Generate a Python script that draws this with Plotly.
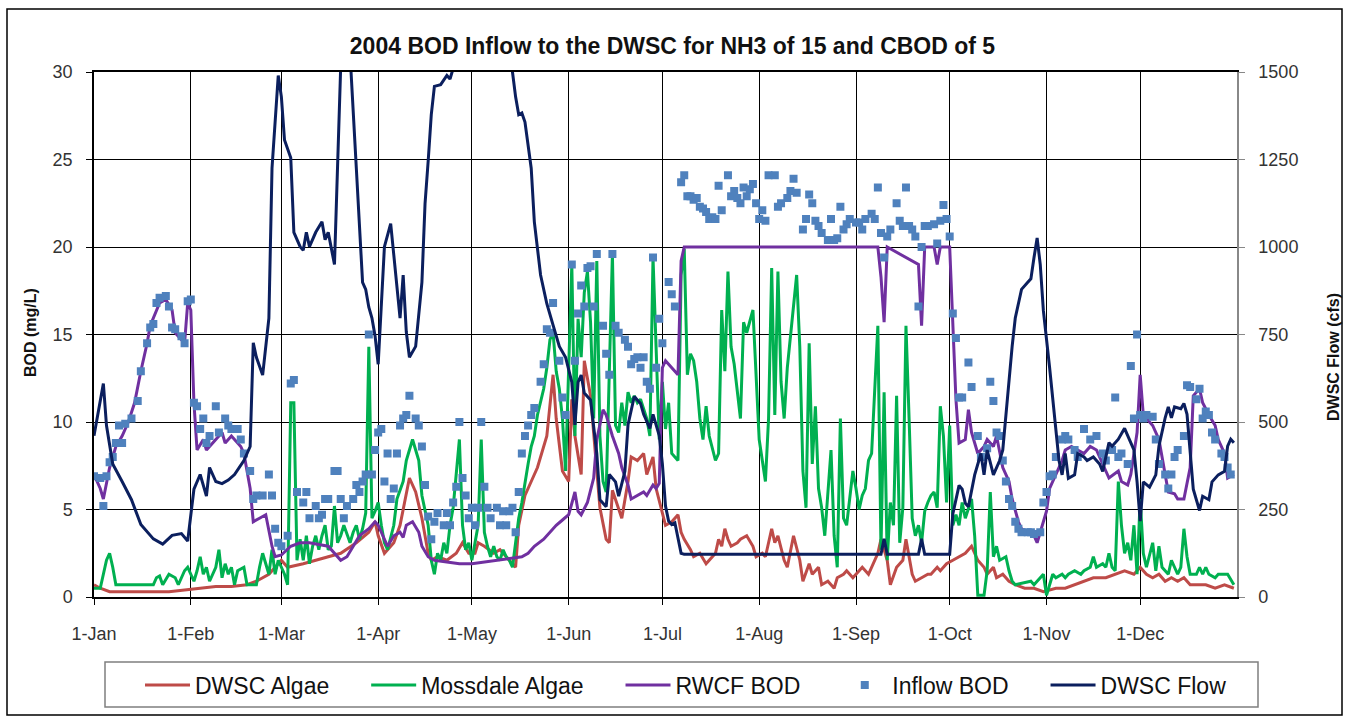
import pandas as pd
import plotly.graph_objects as go

# ---- data (day of year 2004, value) ----
BASE = pd.Timestamp("2004-01-01")

month_starts = ["2004-01-01", "2004-02-01", "2004-03-01", "2004-04-01", "2004-05-01", "2004-06-01",
                "2004-07-01", "2004-08-01", "2004-09-01", "2004-10-01", "2004-11-01", "2004-12-01"]
month_labels = ["1-Jan", "1-Feb", "1-Mar", "1-Apr", "1-May", "1-Jun",
                "1-Jul", "1-Aug", "1-Sep", "1-Oct", "1-Nov", "1-Dec"]

dwsc_algae_day = [1, 3, 6, 10, 15, 20, 25, 30, 35, 40, 45, 50, 53, 57, 61, 63, 68, 72, 76, 80, 85, 89, 91,
                  92, 94, 97, 99, 101, 102, 104, 106, 108, 109, 111, 114, 117, 119, 121, 123, 124, 126, 129,
                  131, 133, 135, 136, 137, 139, 141, 143, 146, 148, 149, 151, 153, 154, 155, 157, 158, 160,
                  162, 163, 165, 166, 167, 169, 170, 172, 173, 175, 177, 178, 180, 181, 183, 184, 186, 188,
                  189, 190, 192, 193, 195, 197, 198, 200, 201, 202, 203, 204, 205, 207, 208, 210, 212, 213,
                  215, 216, 218, 219, 220, 222, 223, 225, 227, 228, 230, 231, 233, 234, 236, 238, 239, 241,
                  242, 244, 246, 247, 249, 250, 252, 253, 255, 256, 258, 260, 261, 263, 264, 266, 268, 269,
                  271, 272, 274, 276, 278, 280, 281, 282, 284, 286, 287, 289, 290, 292, 294, 296, 299, 302,
                  305, 309, 312, 315, 318, 321, 325, 328, 331, 334, 336, 338, 340, 342, 344, 346, 348, 350,
                  352, 355, 357, 360, 363, 366]
dwsc_algae_val = [0.7, 0.5, 0.3, 0.3, 0.3, 0.3, 0.3, 0.4, 0.5, 0.6, 0.6, 0.7, 0.9, 1.3, 2.1, 1.7, 1.9, 2.1,
                  2.3, 2.5, 3.1, 3.7, 4.3,
                  3.5, 2.5, 3.1, 4.1, 5.8, 6.8, 6.0, 4.5, 2.5, 2.1, 2.3, 2.1, 2.5, 3.1, 2.5, 2.5, 3.1, 2.9, 2.5,
                  2.7, 2.3, 1.9, 1.7, 4.1, 5.8, 6.6, 7.4, 9.2, 12.7, 10.2, 7.2, 6.6, 11.3, 9.2, 7.0, 13.5, 11.5,
                  7.2, 5.1, 3.3, 3.1, 6.1, 5.1, 4.5, 6.6, 8.0, 7.8, 8.2, 7.0, 8.0, 6.2, 4.9, 4.1, 4.3, 4.7,
                  3.7, 3.3, 2.7, 2.3, 2.5, 1.9, 2.1, 2.5, 3.3, 2.9, 3.9, 3.3, 2.9, 3.1, 3.3, 3.5, 2.9, 2.3,
                  2.5, 2.3, 3.9, 3.1, 3.5, 2.1, 1.7, 3.5, 2.1, 0.9, 1.9, 1.3, 1.7, 0.7, 0.9, 0.5, 1.1, 1.3,
                  1.5, 1.1, 1.5, 1.7, 1.3, 1.7, 2.5, 3.3, 2.1, 0.7, 1.7, 2.1, 3.3, 1.3, 0.9, 1.1, 1.3, 1.3,
                  1.7, 1.5, 1.9, 2.1, 2.3, 2.5, 2.7, 2.9, 2.1, 1.7, 1.3, 1.7, 1.1, 1.3, 0.9, 0.7, 0.5, 0.5,
                  0.3, 0.5, 0.5, 0.7, 0.9, 1.1, 1.1, 1.3, 1.5, 1.3, 1.7, 1.3, 1.1, 1.3, 0.9, 1.1, 0.9, 1.1,
                  0.7, 0.7, 0.7, 0.5, 0.7, 0.5]

mossdale_day = [1, 3, 5, 6, 7, 8, 10, 13, 16, 20, 21, 22, 23, 25, 27, 28, 30, 31, 33, 34, 35, 36, 37, 38,
                40, 41, 42, 43, 44, 45, 46, 47, 49, 50, 52, 53, 54, 55, 57, 58, 59, 60, 62, 63, 64, 65, 66,
                67, 68, 69, 70, 71, 72, 73, 74, 75, 76, 77, 78, 79, 80, 81, 83, 84, 85, 86, 87, 88, 89, 90,
                91, 92, 93, 94, 95, 97, 98, 100, 101, 103, 105, 106, 108, 109, 110, 111, 112, 113, 114, 115,
                116, 118, 119, 120, 121, 122, 123, 124, 125, 126, 127, 128, 129, 130, 131, 132, 133, 134,
                135, 137, 138, 139, 140, 141, 142, 143, 145, 146, 147, 148, 149, 150, 151, 152, 154, 155,
                156, 157, 158, 159, 160, 161, 162, 163, 164, 165, 167, 168, 169, 170, 171, 172, 173, 174,
                175, 176, 178, 179, 180, 182, 183, 184, 185, 186, 188, 189, 190, 191, 192, 193, 194, 195,
                196, 197, 198, 200, 201, 202, 203, 204, 205, 206, 208, 209, 210, 212, 213, 214, 215, 216,
                217, 218, 219, 220, 221, 222, 223, 224, 226, 227, 228, 229, 230, 231, 232, 233, 234, 235,
                237, 238, 239, 240, 241, 242, 243, 244, 245, 246, 247, 248, 249, 250, 252, 253, 254, 255,
                256, 257, 258, 259, 260, 261, 262, 263, 264, 265, 266, 267, 268, 269, 270, 271, 272, 273,
                274, 275, 276, 277, 278, 279, 280, 282, 283, 284, 285, 286, 287, 288, 289, 290, 291, 293,
                294, 295, 296, 299, 301, 302, 304, 305, 306, 308, 309, 311, 312, 313, 315, 317, 318, 320,
                321, 322, 324, 325, 326, 327, 328, 329, 330, 331, 332, 333, 334, 335, 336, 337, 338, 340,
                341, 342, 343, 345, 346, 348, 349, 350, 351, 352, 354, 355, 356, 357, 358, 360, 361, 363,
                364, 366]
mossdale_val = [0.5, 0.5, 2.1, 2.5, 1.7, 0.7, 0.7, 0.7, 0.7, 0.7, 1.1, 1.2, 0.7, 1.3, 1.1, 0.7, 1.5, 1.7,
                0.9, 1.5, 2.3, 1.3, 1.7, 0.9,
                1.7, 2.7, 1.1, 1.9, 1.3, 1.7, 0.7, 1.5, 1.7, 0.7, 0.7, 0.7, 1.7, 2.5, 1.3, 2.7, 1.3, 2.1,
                1.3, 0.7, 11.1, 11.1, 2.1,
                3.3, 2.1, 3.5, 1.9, 2.9, 3.5, 2.7, 3.5, 4.1, 2.7, 2.9, 5.2, 3.1, 3.5, 4.1, 3.1, 3.7, 4.1,
                3.3, 3.9, 4.8, 14.3, 4.5,
                4.9, 5.4, 4.1, 3.1, 2.7, 4.1, 5.6, 6.6, 7.8, 9.0, 7.8, 5.8, 4.1, 2.1, 1.3, 2.5, 2.1, 3.1,
                2.5, 4.1,
                5.1, 9.0, 4.1, 2.7, 3.1, 2.1, 3.1, 4.1, 9.0, 3.7, 2.9, 2.3, 2.9, 2.3, 2.1, 2.7, 2.3, 2.1,
                1.7, 4.5, 5.4, 6.6, 7.6, 8.6, 9.2, 10.4, 11.9, 13.1, 14.7, 15.1, 12.9, 11.9, 10.2, 7.2,
                19.0, 9.2,
                15.9, 13.7, 17.4, 18.6, 15.7, 10.2, 19.2, 9.2, 6.6, 6.0, 19.6, 9.8, 9.4, 11.1, 9.8, 11.7,
                11.1, 11.5,
                11.1, 11.3, 10.2, 9.2, 19.4, 9.0, 12.3, 9.6, 11.1, 8.2, 7.8, 18.4, 19.9, 12.7, 13.9, 13.5,
                12.3, 10.2,
                9.0, 10.9, 9.2, 7.8, 8.2, 16.4, 12.9, 18.6, 14.3, 13.3, 10.2, 15.7, 15.1, 16.4, 12.3, 9.0,
                7.8, 6.6,
                10.2, 18.8, 10.4, 18.6, 12.3, 10.2, 13.1, 14.9, 18.4, 14.3, 7.2, 5.1, 14.5, 7.6, 10.9, 6.2,
                5.1, 3.5,
                8.4, 3.5, 1.7, 10.2, 4.5, 4.1, 5.8, 7.2, 6.2, 5.0, 5.8, 6.2, 7.8, 8.2, 15.5, 2.7, 11.7, 2.1,
                5.4, 4.1, 11.5, 3.1, 5.1, 15.5, 10.2, 4.5, 3.5, 4.1, 3.1, 4.9, 5.4, 5.8, 6.0, 5.1, 10.9, 9.2,
                5.4, 9.8, 4.1, 4.7, 4.1, 5.4, 4.5, 5.6, 3.5, 0.1, 0.1, 0.1, 1.5, 6.0, 2.3, 2.9, 2.1, 2.3,
                1.5, 0.9, 0.7, 0.8, 0.9, 0.7, 1.1, 1.3, 0.1, 1.3, 1.1, 1.3, 1.1, 1.3, 1.5, 1.3, 1.5, 1.7,
                2.3, 1.7, 1.9, 1.7, 2.5, 1.7, 1.5, 6.6, 4.1, 2.5, 3.1, 2.1, 4.1, 1.3, 5.6, 2.5, 1.7, 3.1,
                1.5, 2.9, 1.7, 1.3, 2.1, 1.3, 1.7, 3.9, 2.3, 1.3, 1.3, 1.7, 1.3, 1.7, 1.3, 1.1, 1.3, 1.3,
                1.3, 0.7]

rwcf_day = [1, 3, 4, 6, 8, 10, 12, 14, 16, 18, 19, 21, 22, 24, 26, 27, 28, 30, 31, 32, 33, 34, 36, 37, 40,
            42, 43, 45, 48, 49, 51, 52, 54, 56, 58, 59, 61, 64, 67, 70, 73, 76, 80, 82, 84, 86, 89, 91,
            92, 94, 95, 97, 99, 100, 101, 103, 105, 106, 108, 110, 114, 118, 122, 126, 131, 135, 138, 140,
            142, 145, 147, 149, 151, 153, 155, 156, 157, 159, 161, 162, 164, 165, 167, 169, 170, 172, 173,
            175, 177, 178, 180, 181, 182, 183, 184, 186, 188, 189, 190, 252, 253, 254, 255, 265, 266, 267,
            270, 271, 272, 275, 276, 277, 278, 280, 281, 282, 284, 286, 287, 289, 290, 292, 294, 295, 297,
            298, 300, 302, 303, 304, 306, 307, 309, 311, 312, 314, 316, 318, 320, 322, 324, 326, 329, 330,
            332, 333, 335, 336, 337, 339, 340, 342, 344, 345, 347, 348, 350, 352, 353, 355, 356, 358, 360,
            361, 363, 364, 366]
rwcf_val = [7.0, 6.2, 5.6, 7.4, 8.6, 9.2, 10.0, 11.1, 12.9, 14.5, 15.5, 16.4, 16.8, 17.0, 16.4, 15.1, 14.9,
            14.5, 16.8, 16.4, 11.1, 8.4, 9.0, 8.4, 9.0,
            9.4, 8.8, 9.2, 8.6, 8.2, 6.2, 4.3, 4.5, 4.7, 2.9, 2.3, 2.4, 2.9, 3.1, 3.1, 3.0, 2.9, 2.1, 2.3,
            2.9, 3.5, 3.9, 4.3,
            4.1, 3.3, 2.9, 3.5, 3.7, 3.4, 4.1, 4.3, 3.7, 2.9, 2.3, 2.1, 2.0, 1.9, 1.9, 2.0, 2.1, 2.2, 2.3,
            2.5,
            2.9, 3.3, 3.7, 4.1, 4.4, 4.7, 6.0, 4.9, 4.7, 5.4, 6.8, 9.0, 10.7, 10.4, 9.2, 8.2, 7.4, 6.4,
            5.6,
            5.8, 6.0, 5.8, 6.4, 6.2, 6.5, 13.1, 13.5, 13.1, 12.7, 19.2, 20.0, 20.0, 18.3, 15.7, 20.0, 19.0,
            15.5, 20.0,
            20.0, 19.0, 20.0, 20.0, 15.3, 11.3, 8.8, 9.0, 10.7, 9.4, 8.2, 8.6, 9.0, 8.6, 9.2, 7.4, 6.6,
            5.6, 4.3,
            3.9, 3.7, 3.5, 3.1, 3.7, 4.9, 6.2, 7.0, 7.8, 8.4, 8.6, 8.4, 8.2, 8.6, 8.4, 7.6, 6.8, 7.2, 6.6,
            6.4, 7.0, 9.4, 12.7, 10.4, 10.0, 9.8, 9.0, 7.0, 6.0, 5.9, 5.6, 5.6, 7.4, 11.5, 11.9, 11.1,
            10.4, 9.8,
            9.0, 8.2, 6.8, 7.0]

inflow_day = [1, 3, 4, 5, 6, 7, 8, 9, 10, 11, 13, 15, 16, 18, 19, 20, 21, 22, 24, 25, 26, 27, 29, 30, 31,
              32, 33, 34, 35, 36, 37, 38, 40, 41, 43, 44, 45, 47, 48, 49, 51, 52, 53, 55, 57, 58, 59, 60,
              61, 63, 64, 65, 66, 68, 69, 70, 72, 73, 74, 75, 76, 78, 79, 80, 81, 82, 84, 85, 86, 87, 88,
              89, 90, 91, 92, 93, 94, 95, 96, 97, 98, 99, 100, 101, 102, 104, 105, 106, 107, 108, 109, 110,
              111, 113, 114, 115, 116, 117, 118, 119, 120, 121, 122, 123, 124, 125, 126, 127, 128, 130, 131,
              132, 133, 134, 135, 136, 137, 138, 139, 140, 141, 142, 144, 145, 146, 147, 148, 150, 151, 152,
              154, 155, 156, 157, 158, 159, 160, 161, 162, 164, 165, 166, 167, 168, 169, 171, 172, 173, 174,
              175, 176, 177, 178, 179, 180, 181, 182, 183, 185, 186, 187, 189, 190, 191, 192, 193, 194, 195,
              196, 197, 198, 199, 200, 201, 202, 204, 205, 206, 207, 208, 209, 210, 211, 212, 213, 214, 215,
              216, 217, 219, 220, 221, 223, 224, 225, 226, 228, 229, 230, 231, 232, 233, 234, 236, 237, 238,
              239, 240, 241, 242, 243, 245, 246, 247, 248, 250, 251, 252, 253, 254, 255, 256, 258, 259, 260,
              261, 262, 263, 264, 265, 266, 267, 268, 270, 271, 272, 273, 274, 275, 276, 277, 278, 279, 281,
              282, 284, 285, 287, 288, 289, 290, 291, 292, 293, 294, 295, 296, 297, 298, 300, 301, 302, 304,
              305, 306, 307, 308, 309, 311, 312, 313, 315, 316, 318, 320, 322, 324, 325, 327, 328, 329, 330,
              332, 333, 334, 335, 336, 337, 338, 340, 341, 342, 344, 345, 346, 347, 348, 350, 351, 352, 354,
              355, 356, 357, 358, 359, 360, 362, 363, 364, 365, 366]
inflow_val = [6.9, 6.8, 5.2, 6.9, 7.7, 8.0, 8.8, 9.8, 8.8, 9.9, 10.2, 11.2, 12.9, 14.5, 15.4, 15.6, 16.8,
              17.1, 17.2, 16.6, 15.4, 15.3, 14.9, 14.5, 16.9,
              17.0, 11.1, 10.9, 9.6, 10.2, 8.8, 9.2, 10.9, 9.4, 10.2, 9.8, 9.6, 9.6, 9.0, 8.2, 7.2, 5.6,
              5.8, 5.8, 7.0, 5.8, 3.9, 3.1,
              2.9, 3.5, 12.2, 12.4, 6.0, 5.4, 6.0, 4.5, 5.2, 4.5, 4.7, 5.6, 5.6, 7.2, 7.2, 5.6, 4.5, 5.2,
              5.6, 6.4, 6.0, 6.6, 7.0,
              15.0, 7.0, 8.4, 9.4, 9.6, 6.6, 8.2, 5.6, 6.2, 8.2, 9.8, 10.2, 10.4, 11.5, 10.2, 9.8, 8.6,
              6.4, 4.6, 3.3, 4.3,
              4.8, 4.1, 4.8, 4.1, 5.4, 6.3, 10.0, 6.8, 5.8, 4.5, 5.1, 4.1, 5.1, 10.0, 6.3, 5.1, 4.5, 5.1,
              4.1,
              4.9, 4.1, 4.9, 5.1, 3.7, 6.0, 8.2, 9.2, 9.8, 10.4, 10.8, 12.3, 13.3, 15.3, 15.1, 16.8, 13.5,
              11.4, 10.4,
              19.0, 13.5, 16.2, 17.8, 16.6, 18.8, 18.9, 16.6, 19.6, 15.5, 13.9, 12.7, 19.6, 15.5, 15.1,
              14.7, 14.3, 13.3, 13.6,
              13.7, 13.1, 13.7, 12.3, 11.9, 19.4, 13.1, 15.9, 14.5, 18.0, 17.3, 16.6, 23.7, 24.1, 22.9,
              22.9, 22.7, 22.8, 22.3,
              22.2, 22.0, 21.6, 21.7, 21.6, 23.5, 22.1, 24.1, 22.9, 23.2, 22.8, 22.5, 23.4, 22.9, 23.3,
              23.6, 22.5, 21.6, 22.1,
              21.5, 24.1, 24.1, 22.3, 22.5, 22.8, 23.2, 23.9, 23.1, 21.0, 21.6, 23.0, 22.5, 21.5, 21.2,
              20.8, 20.4, 21.6, 20.4,
              20.5, 22.3, 21.0, 21.3, 21.6, 21.4, 21.4, 21.0, 21.6, 21.9, 21.6, 23.4, 20.8, 19.4, 20.6,
              21.0, 22.5, 21.5, 21.2,
              23.4, 21.2, 21.0, 20.6, 16.6, 20.0, 21.2, 21.2, 21.3, 20.2, 21.5, 22.4, 21.6, 20.6, 16.2,
              14.8, 11.4, 11.4, 13.4,
              12.0, 9.2, 8.0, 8.5, 12.3, 11.2, 9.4, 9.2, 7.8, 6.6, 5.6, 5.2, 4.3, 3.9, 3.7, 3.7, 3.7, 3.6,
              3.7, 5.4, 6.0, 6.9, 7.0, 8.0, 9.0, 9.2, 9.0, 8.4, 8.0, 9.6, 9.0, 9.2, 8.2, 7.8, 8.4, 11.4,
              8.0,
              8.2, 7.6, 13.2, 10.2, 15.0, 10.4, 10.2, 10.4, 10.3, 9.0, 7.6, 7.0, 6.2, 7.0, 8.0, 8.4, 9.2,
              12.1, 12.0,
              11.3, 11.9, 10.2, 10.6, 10.4, 9.4, 9.0, 8.2, 8.0, 7.4, 7.0]

flow_day = [1, 4, 5, 7, 10, 13, 16, 20, 23, 26, 29, 31, 33, 35, 37, 38, 40, 42, 44, 46, 49, 51, 52, 53, 55,
            57, 58, 60, 61, 62, 64, 65, 67, 68, 69, 70, 72, 74, 75, 76, 78, 79, 80, 81, 82, 83, 85, 87, 88,
            89, 90, 91, 92, 93, 94, 96, 97, 99, 100, 101, 102, 104, 106, 107, 108, 109, 110, 112, 114, 115,
            116, 118, 121, 125, 130, 133, 135, 136, 137, 138, 139, 141, 142, 144, 146, 148, 150, 152, 154,
            155, 156, 157, 158, 160, 162, 163, 165, 166, 168, 169, 171, 172, 174, 176, 177, 179, 180, 182,
            183, 184, 185, 186, 187, 189, 190, 253, 254, 255, 265, 266, 267, 275, 276, 278, 279, 280, 281,
            283, 285, 286, 287, 289, 291, 292, 294, 295, 296, 298, 300, 301, 302, 303, 304, 305, 307, 309,
            310, 311, 312, 313, 315, 316, 318, 319, 321, 323, 324, 326, 327, 329, 331, 332, 334, 335, 336,
            337, 339, 341, 342, 344, 345, 346, 347, 349, 350, 351, 353, 355, 356, 358, 359, 361, 363, 364,
            365, 366]
flow_val = [461, 610, 490, 380, 330, 278, 207, 166, 151, 176, 181, 160, 308, 350, 288, 370, 330, 324, 334,
            350, 390, 430, 726, 685, 634,
            797, 1225, 1490, 1429, 1306, 1255, 1042, 1001, 991, 1042, 1001, 1042, 1072, 1021, 1042, 950,
            1225, 1600, 1800, 1750, 1550, 1225, 899, 879,
            828, 797, 746, 665, 818, 1001, 1067, 970, 797, 920, 757, 685, 716, 899, 1123, 1245, 1378, 1459,
            1464, 1490, 1480,
            1510, 1650, 1850, 1950, 1800, 1600, 1500, 1429, 1378, 1383, 1357, 1225, 1072, 920, 838, 777,
            716, 685, 614,
            492, 614, 634, 583, 563, 410, 278, 258, 350, 329, 288, 359, 492, 573, 553, 522, 482, 522, 461,
            380, 260, 217, 207, 212, 125, 122, 122, 166, 122, 122, 166, 122, 122, 237, 319, 308, 268, 258,
            349, 410, 349, 420, 349, 390, 420, 634, 716, 797, 879, 899, 909, 970, 1026, 950, 818, 655, 471,
            390, 349, 410, 339, 349, 410, 400, 390, 400, 380, 359, 441, 431, 451, 482, 461, 420, 329, 217,
            329, 314, 349, 431, 512, 543, 512, 543, 538, 553, 522, 308, 247, 288, 278, 329, 349, 359, 431,
            451, 441]


def to_dates(days):
    return [BASE + pd.Timedelta(days=d - 1) for d in days]


# ---- colours and fonts ----
C_RED = "#BE4B48"
C_GREEN = "#00B050"
C_PURPLE = "#7030A0"
C_BLUE = "#4F81BD"
C_NAVY = "#0B1F5E"
FONT = "Liberation Sans, Arial, sans-serif"
PAD = "\u00a0" * 5   # spacing after each legend entry

fig = go.Figure()
fig.add_trace(go.Scatter(x=to_dates(dwsc_algae_day), y=dwsc_algae_val, name="DWSC Algae" + PAD,
                         mode="lines", line=dict(color=C_RED, width=3)))
fig.add_trace(go.Scatter(x=to_dates(mossdale_day), y=mossdale_val, name="Mossdale Algae" + PAD,
                         mode="lines", line=dict(color=C_GREEN, width=3)))
fig.add_trace(go.Scatter(x=to_dates(rwcf_day), y=rwcf_val, name="RWCF BOD" + PAD,
                         mode="lines", line=dict(color=C_PURPLE, width=3)))
fig.add_trace(go.Scatter(x=to_dates(inflow_day), y=inflow_val, name="Inflow BOD" + PAD,
                         mode="markers", marker=dict(symbol="square", color=C_BLUE, size=8)))
fig.add_trace(go.Scatter(x=to_dates(flow_day), y=flow_val, name="DWSC Flow", yaxis="y2",
                         mode="lines", line=dict(color=C_NAVY, width=3)))

W, H = 1345, 717
ML, MR, MT, MB = 94, 108, 72, 120
PW, PH = W - ML - MR, H - MT - MB


def px_x(p):
    return (p - ML) / PW


def px_y(p):
    return (H - MB - p) / PH


fig.update_layout(
    width=W, height=H,
    margin=dict(l=ML, r=MR, t=MT, b=MB, autoexpand=False),
    paper_bgcolor="white", plot_bgcolor="white",
    font=dict(family=FONT, color="#222"),
    title=dict(text="<b>2004 BOD Inflow to the DWSC for NH3 of 15 and CBOD of 5</b>",
               x=0.5, xref="container", xanchor="center",
               y=1 - 46 / H, yref="container", yanchor="middle",
               font=dict(size=23, color="#111")),
    xaxis=dict(type="date", range=["2004-01-01", "2005-01-01"],
               tickvals=month_starts, ticktext=month_labels,
               showgrid=True, gridcolor="#000", gridwidth=1.2,
               showline=True, linecolor="#000", linewidth=1.5, mirror=True,
               ticks="outside", ticklen=6, tickcolor="#000",
               tickfont=dict(size=18, color="#333"), ticklabelstandoff=14,
               zeroline=False),
    yaxis=dict(range=[0, 30], dtick=5, tick0=0,
               showgrid=True, gridcolor="#000", gridwidth=1.2,
               showline=True, linecolor="#000", linewidth=1.5,
               ticks="outside", ticklen=6, tickcolor="#000",
               tickfont=dict(size=18, color="#333"), ticklabelstandoff=10,
               zeroline=False),
    yaxis2=dict(range=[0, 1500], dtick=250, tick0=0, overlaying="y", side="right",
                showgrid=False, showline=True, linecolor="#888", linewidth=1.5,
                ticks="outside", ticklen=6, tickcolor="#888",
                tickfont=dict(size=18, color="#333"), ticklabelstandoff=10,
                zeroline=False),
    legend=dict(orientation="h", xref="container", yref="container",
                x=140 / W, y=1 - 685 / H, xanchor="left", yanchor="middle",
                borderwidth=0, bgcolor="rgba(0,0,0,0)",
                font=dict(size=23, color="#111"), itemwidth=45),
    showlegend=True,
)

# axis titles
fig.add_annotation(text="<b>BOD (mg/L)</b>", textangle=-90, xref="paper", yref="paper",
                   x=px_x(30), y=px_y(333), xanchor="center", yanchor="middle",
                   showarrow=False, font=dict(size=16, color="#111"))
fig.add_annotation(text="<b>DWSC Flow (cfs)</b>", textangle=-90, xref="paper", yref="paper",
                   x=px_x(1333), y=px_y(357), xanchor="center", yanchor="middle",
                   showarrow=False, font=dict(size=16, color="#111"))

# legend box and chart frame
fig.add_shape(type="rect", xref="paper", yref="paper",
              x0=px_x(105), x1=px_x(1258), y0=px_y(707), y1=px_y(662),
              line=dict(color="#7F7F7F", width=1.5), fillcolor="white", layer="below")
fig.add_shape(type="rect", xref="paper", yref="paper",
              x0=px_x(7), x1=px_x(1342), y0=px_y(715), y1=px_y(9),
              line=dict(color="#000", width=1.5), fillcolor="rgba(0,0,0,0)", layer="below")

fig.write_html("out.html")
